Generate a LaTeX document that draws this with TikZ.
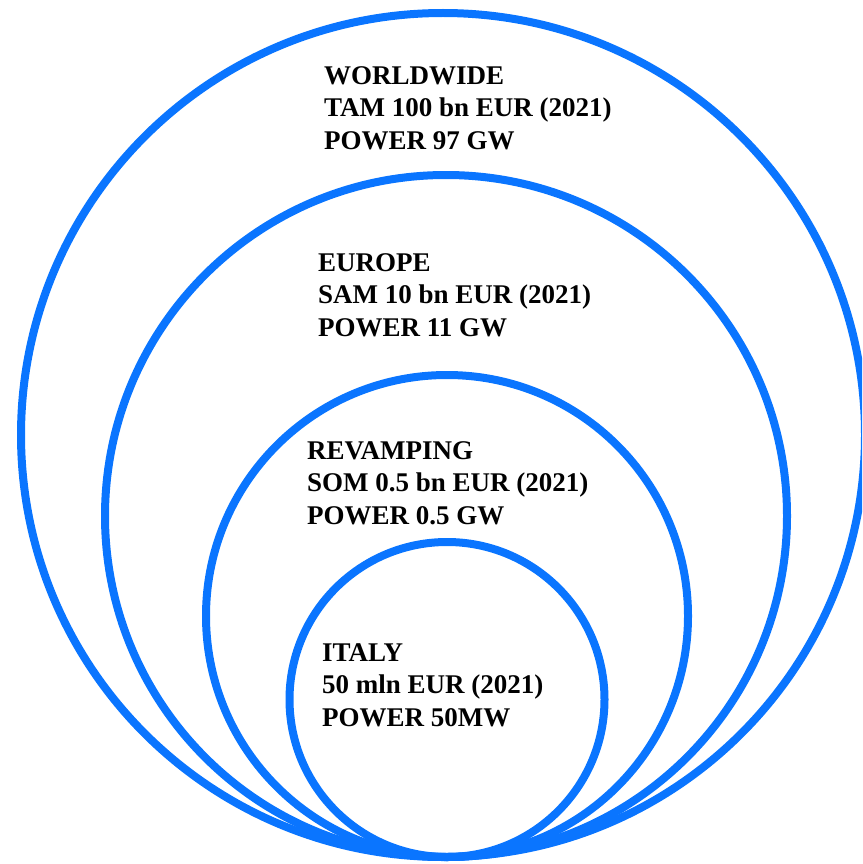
\documentclass[tikz,border=0pt]{standalone}
\usepackage{fontspec}
\setmainfont{Liberation Serif}
\definecolor{ringblue}{RGB}{10,117,255}
\begin{document}
\begin{tikzpicture}[x=1pt,y=1pt,
  ring/.style={draw=ringblue,line width=8pt},
  label/.style={anchor=base west,inner sep=0pt,align=left,
    font={\bfseries\fontsize{27}{32.5}\selectfont}}]
\useasboundingbox (0,0) rectangle (862,-864);
\begin{scope}
\clip (0,0) rectangle (862,-864);
\node[ring,circle,minimum size=844pt,inner sep=0pt] (world) at (443,-435) {};
\node[ring,circle,minimum size=682pt,inner sep=0pt] (europe) at (446,-516) {};
\node[ring,circle,minimum size=482pt,inner sep=0pt] (revamp) at (447,-616) {};
\node[ring,circle,minimum size=315pt,inner sep=0pt] (italy) at (447,-699.5) {};
\end{scope}
\node[label] (tworld) at (324,-149) {WORLDWIDE\\TAM 100 bn EUR (2021)\\POWER 97 GW};
\node[label] (teurope) at (318,-336) {EUROPE\\SAM 10 bn EUR (2021)\\POWER 11 GW};
\node[label] (trevamp) at (307,-524) {REVAMPING\\SOM 0.5 bn EUR (2021)\\POWER 0.5 GW};
\node[label] (titaly) at (322,-726) {ITALY\\50 mln EUR (2021)\\POWER 50MW};
\end{tikzpicture}
\end{document}
